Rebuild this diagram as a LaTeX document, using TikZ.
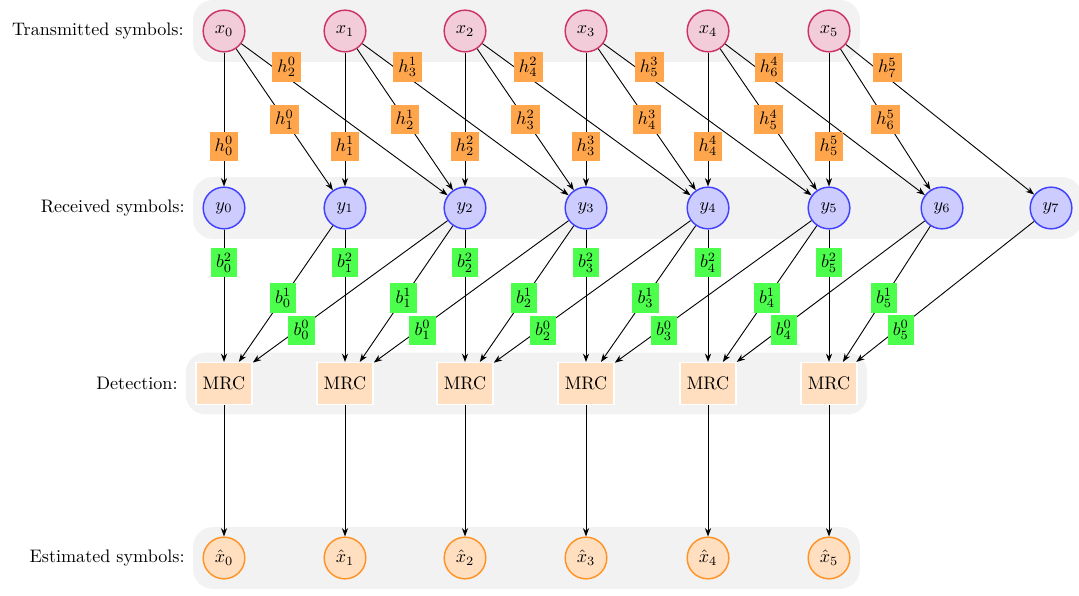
\documentclass[tikz,border=0pt]{standalone}
\usetikzlibrary{arrows.meta,fit,backgrounds}
\begin{document}
\begin{tikzpicture}[x=0.552pt,y=-0.552pt,
  tx/.style={circle,draw=purple!80,fill=purple!20,line width=0.8pt,minimum size=23pt,inner sep=0pt},
  rx/.style={circle,draw=blue!75,fill=blue!20,line width=0.8pt,minimum size=23pt,inner sep=0pt},
  est/.style={circle,draw=orange!85,fill=orange!25,line width=0.8pt,minimum size=23pt,inner sep=0pt},
  mrc/.style={rectangle,draw=white,fill=orange!25,line width=0.8pt,minimum width=31pt,minimum height=23pt,inner sep=2pt},
  hl/.style={fill=orange!70,inner sep=2.8pt},
  bl/.style={fill=green!70,inner sep=2.8pt},
  arr/.style={-{Stealth[length=4.6pt,width=3.4pt]},line width=0.5pt},
  band/.style={fill=black!5,rounded corners=11pt,inner sep=5.2pt},
  rowlab/.style={anchor=east}]
\useasboundingbox (0,0) rectangle (1079,596);

% nodes
\foreach \k/\px in {0/224,1/345,2/465,3/586,4/708,5/829}{
  \node[tx]  (x\k) at (\px,31)    {$x_{\k}$};
  \node[rx]  (y\k) at (\px,208)   {$y_{\k}$};
  \node[mrc] (m\k) at (\px,383.5) {MRC};
  \node[est] (e\k) at (\px,558)   {$\hat{x}_{\k}$};
}
\node[rx] (y6) at (942,208) {$y_{6}$};
\node[rx] (y7) at (1051,208) {$y_{7}$};

% row labels
\node[rowlab] (lt) at (190,31)    {Transmitted symbols:};
\node[rowlab] (lr) at (191,208)   {Received symbols:};
\node[rowlab] (ld) at (184,383.5) {Detection:};
\node[rowlab] (le) at (191,558)   {Estimated symbols:};

% bands
\begin{scope}[on background layer]
  \node[band,fit=(x0)(x5)] (bt) {};
  \node[band,fit=(y0)(y7)] (br) {};
  \node[band,fit=(m0)(m5)] (bd) {};
  \node[band,fit=(e0)(e5)] (be) {};
\end{scope}

% channel edges
\foreach \k in {0,...,5}{
  \pgfmathtruncatemacro{\ka}{\k+1}
  \pgfmathtruncatemacro{\kb}{\k+2}
  \draw[arr] (x\k) -- node[hl,pos=0.7] {$h^{\k}_{\k}$} (y\k);
  \draw[arr] (x\k) -- node[hl,pos=0.5] {$h^{\k}_{\ka}$} (y\ka);
  \draw[arr] (x\k) -- node[hl,pos=0.22,yshift=5.5pt] {$h^{\k}_{\kb}$} (y\kb);
}

% combining edges
\foreach \k in {0,...,5}{
  \pgfmathtruncatemacro{\ka}{\k+1}
  \pgfmathtruncatemacro{\kb}{\k+2}
  \draw[arr] (y\k) -- node[bl,pos=0.25] {$b^{2}_{\k}$} (m\k);
  \draw[arr] (y\ka) -- node[bl,pos=0.53] {$b^{1}_{\k}$} (m\k);
  \draw[arr] (y\kb) -- node[bl,pos=0.75,yshift=-1.8pt] {$b^{0}_{\k}$} (m\k);
  \draw[arr] (m\k) -- (e\k);
}
\end{tikzpicture}
\end{document}
